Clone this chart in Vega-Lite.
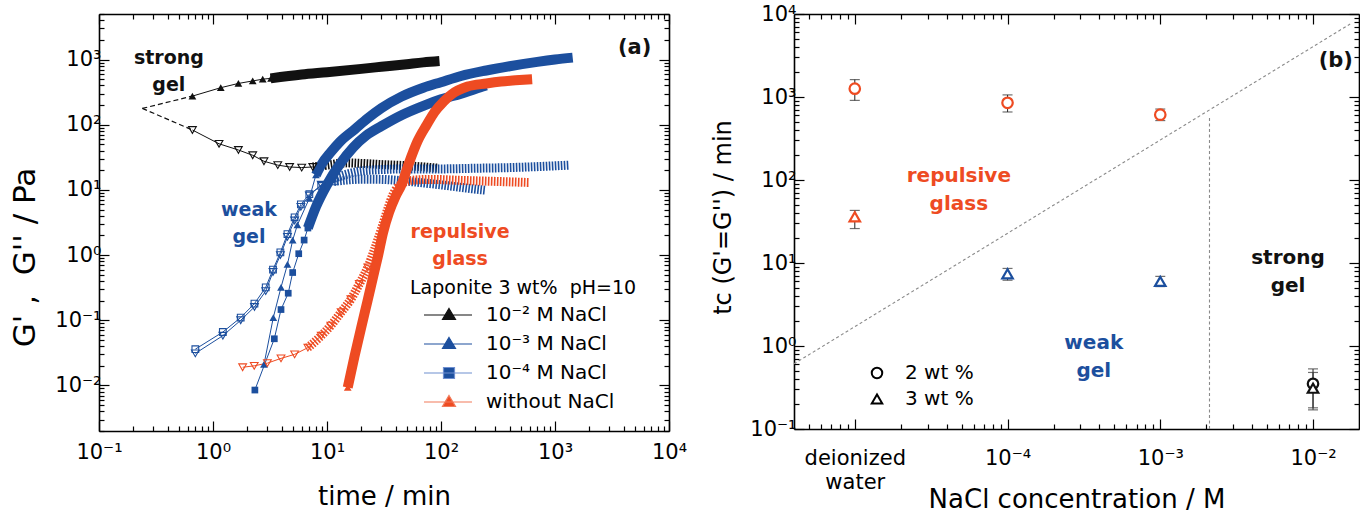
{
  "$schema": "https://vega.github.io/schema/vega-lite/v6.json",
  "padding": {"left": 9, "top": 3, "right": 0, "bottom": 0},
  "bounds": "flush",
  "spacing": 125,
  "resolve": {
    "scale": {"color": "independent", "shape": "independent", "fill": "independent", "stroke": "independent"},
    "legend": {"color": "independent", "shape": "independent", "fill": "independent", "stroke": "independent"}
  },
  "config": {
    "font": "DejaVu Sans",
    "view": {"stroke": null},
    "axis": {"grid": false, "domainColor": "black", "domainWidth": 1.6, "tickColor": "black", "tickWidth": 1.2, "labelColor": "black", "labelFont": "DejaVu Sans", "labelFontSize": 21, "titleColor": "black", "titleFont": "DejaVu Sans", "titleFontWeight": "normal", "labelOverlap": false, "labelFlush": false, "labelBound": false},
    "text": {"font": "DejaVu Sans"},
    "legend": {"labelFont": "DejaVu Sans", "titleFont": "DejaVu Sans"}
  },
  "datasets": {
    "aDash": [
      {"s": "10⁻² M NaCl", "m": "storage", "t": 0.24, "G": 178},
      {"s": "10⁻² M NaCl", "m": "storage", "t": 0.66, "G": 275},
      {"s": "10⁻² M NaCl", "m": "loss", "t": 0.24, "G": 178},
      {"s": "10⁻² M NaCl", "m": "loss", "t": 0.66, "G": 83}
    ],
    "aBand": [
      {"s": "10⁻² M NaCl", "m": "storage", "t": 3.2, "G": 515},
      {"s": "10⁻² M NaCl", "m": "storage", "t": 6, "G": 590},
      {"s": "10⁻² M NaCl", "m": "storage", "t": 10, "G": 640},
      {"s": "10⁻² M NaCl", "m": "storage", "t": 20, "G": 720},
      {"s": "10⁻² M NaCl", "m": "storage", "t": 30, "G": 775},
      {"s": "10⁻² M NaCl", "m": "storage", "t": 50, "G": 850},
      {"s": "10⁻² M NaCl", "m": "storage", "t": 70, "G": 905},
      {"s": "10⁻² M NaCl", "m": "storage", "t": 97, "G": 950},
      {"s": "10⁻² M NaCl", "m": "loss", "t": 7.5, "G": 22.5},
      {"s": "10⁻² M NaCl", "m": "loss", "t": 10, "G": 24},
      {"s": "10⁻² M NaCl", "m": "loss", "t": 15, "G": 26},
      {"s": "10⁻² M NaCl", "m": "loss", "t": 20, "G": 25.5},
      {"s": "10⁻² M NaCl", "m": "loss", "t": 30, "G": 24.5},
      {"s": "10⁻² M NaCl", "m": "loss", "t": 50, "G": 23.5},
      {"s": "10⁻² M NaCl", "m": "loss", "t": 70, "G": 22.5},
      {"s": "10⁻² M NaCl", "m": "loss", "t": 95, "G": 21.5},
      {"s": "10⁻³ M NaCl", "m": "storage", "t": 8, "G": 17},
      {"s": "10⁻³ M NaCl", "m": "storage", "t": 9, "G": 25},
      {"s": "10⁻³ M NaCl", "m": "storage", "t": 10.8, "G": 38},
      {"s": "10⁻³ M NaCl", "m": "storage", "t": 13, "G": 55},
      {"s": "10⁻³ M NaCl", "m": "storage", "t": 17.5, "G": 85},
      {"s": "10⁻³ M NaCl", "m": "storage", "t": 22.7, "G": 125},
      {"s": "10⁻³ M NaCl", "m": "storage", "t": 30, "G": 180},
      {"s": "10⁻³ M NaCl", "m": "storage", "t": 45, "G": 270},
      {"s": "10⁻³ M NaCl", "m": "storage", "t": 70, "G": 370},
      {"s": "10⁻³ M NaCl", "m": "storage", "t": 100, "G": 450},
      {"s": "10⁻³ M NaCl", "m": "storage", "t": 150, "G": 560},
      {"s": "10⁻³ M NaCl", "m": "storage", "t": 250, "G": 680},
      {"s": "10⁻³ M NaCl", "m": "storage", "t": 400, "G": 790},
      {"s": "10⁻³ M NaCl", "m": "storage", "t": 700, "G": 920},
      {"s": "10⁻³ M NaCl", "m": "storage", "t": 1000, "G": 1000},
      {"s": "10⁻³ M NaCl", "m": "storage", "t": 1430, "G": 1070},
      {"s": "10⁻³ M NaCl", "m": "loss", "t": 11.5, "G": 15},
      {"s": "10⁻³ M NaCl", "m": "loss", "t": 15, "G": 17.5},
      {"s": "10⁻³ M NaCl", "m": "loss", "t": 20, "G": 19.5},
      {"s": "10⁻³ M NaCl", "m": "loss", "t": 30, "G": 20.5},
      {"s": "10⁻³ M NaCl", "m": "loss", "t": 50, "G": 21},
      {"s": "10⁻³ M NaCl", "m": "loss", "t": 100, "G": 21},
      {"s": "10⁻³ M NaCl", "m": "loss", "t": 200, "G": 21.5},
      {"s": "10⁻³ M NaCl", "m": "loss", "t": 400, "G": 22},
      {"s": "10⁻³ M NaCl", "m": "loss", "t": 800, "G": 23},
      {"s": "10⁻³ M NaCl", "m": "loss", "t": 1330, "G": 24},
      {"s": "10⁻⁴ M NaCl", "m": "storage", "t": 6.8, "G": 2.6},
      {"s": "10⁻⁴ M NaCl", "m": "storage", "t": 8, "G": 5.5},
      {"s": "10⁻⁴ M NaCl", "m": "storage", "t": 10, "G": 12},
      {"s": "10⁻⁴ M NaCl", "m": "storage", "t": 13, "G": 25},
      {"s": "10⁻⁴ M NaCl", "m": "storage", "t": 17, "G": 45},
      {"s": "10⁻⁴ M NaCl", "m": "storage", "t": 22, "G": 68},
      {"s": "10⁻⁴ M NaCl", "m": "storage", "t": 30, "G": 95},
      {"s": "10⁻⁴ M NaCl", "m": "storage", "t": 45, "G": 140},
      {"s": "10⁻⁴ M NaCl", "m": "storage", "t": 70, "G": 195},
      {"s": "10⁻⁴ M NaCl", "m": "storage", "t": 100, "G": 245},
      {"s": "10⁻⁴ M NaCl", "m": "storage", "t": 150, "G": 300},
      {"s": "10⁻⁴ M NaCl", "m": "storage", "t": 200, "G": 355},
      {"s": "10⁻⁴ M NaCl", "m": "storage", "t": 250, "G": 400},
      {"s": "10⁻⁴ M NaCl", "m": "loss", "t": 11.5, "G": 13.5},
      {"s": "10⁻⁴ M NaCl", "m": "loss", "t": 15, "G": 14.2},
      {"s": "10⁻⁴ M NaCl", "m": "loss", "t": 20, "G": 14.6},
      {"s": "10⁻⁴ M NaCl", "m": "loss", "t": 30, "G": 14.5},
      {"s": "10⁻⁴ M NaCl", "m": "loss", "t": 50, "G": 13.6},
      {"s": "10⁻⁴ M NaCl", "m": "loss", "t": 80, "G": 12.5},
      {"s": "10⁻⁴ M NaCl", "m": "loss", "t": 120, "G": 11.5},
      {"s": "10⁻⁴ M NaCl", "m": "loss", "t": 180, "G": 10.5},
      {"s": "10⁻⁴ M NaCl", "m": "loss", "t": 245, "G": 9.9},
      {"s": "without NaCl", "m": "storage", "t": 15.2, "G": 0.0093},
      {"s": "without NaCl", "m": "storage", "t": 17.4, "G": 0.0275},
      {"s": "without NaCl", "m": "storage", "t": 19.9, "G": 0.076},
      {"s": "without NaCl", "m": "storage", "t": 22.7, "G": 0.2},
      {"s": "without NaCl", "m": "storage", "t": 26, "G": 0.56},
      {"s": "without NaCl", "m": "storage", "t": 27.9, "G": 0.94},
      {"s": "without NaCl", "m": "storage", "t": 31, "G": 2.2},
      {"s": "without NaCl", "m": "storage", "t": 35, "G": 4.5},
      {"s": "without NaCl", "m": "storage", "t": 40, "G": 8},
      {"s": "without NaCl", "m": "storage", "t": 45, "G": 12},
      {"s": "without NaCl", "m": "storage", "t": 52, "G": 25},
      {"s": "without NaCl", "m": "storage", "t": 62, "G": 55},
      {"s": "without NaCl", "m": "storage", "t": 75, "G": 100},
      {"s": "without NaCl", "m": "storage", "t": 88, "G": 158},
      {"s": "without NaCl", "m": "storage", "t": 105, "G": 225},
      {"s": "without NaCl", "m": "storage", "t": 123, "G": 290},
      {"s": "without NaCl", "m": "storage", "t": 171, "G": 385},
      {"s": "without NaCl", "m": "storage", "t": 250, "G": 430},
      {"s": "without NaCl", "m": "storage", "t": 336, "G": 460},
      {"s": "without NaCl", "m": "storage", "t": 450, "G": 480},
      {"s": "without NaCl", "m": "storage", "t": 630, "G": 500},
      {"s": "without NaCl", "m": "loss", "t": 6.8, "G": 0.038},
      {"s": "without NaCl", "m": "loss", "t": 8.9, "G": 0.058},
      {"s": "without NaCl", "m": "loss", "t": 10.8, "G": 0.083},
      {"s": "without NaCl", "m": "loss", "t": 13.3, "G": 0.133},
      {"s": "without NaCl", "m": "loss", "t": 16.2, "G": 0.21},
      {"s": "without NaCl", "m": "loss", "t": 19.2, "G": 0.36},
      {"s": "without NaCl", "m": "loss", "t": 22.8, "G": 0.65},
      {"s": "without NaCl", "m": "loss", "t": 26, "G": 1.2},
      {"s": "without NaCl", "m": "loss", "t": 30, "G": 2.5},
      {"s": "without NaCl", "m": "loss", "t": 34, "G": 5},
      {"s": "without NaCl", "m": "loss", "t": 38, "G": 8.5},
      {"s": "without NaCl", "m": "loss", "t": 44, "G": 12},
      {"s": "without NaCl", "m": "loss", "t": 55, "G": 14},
      {"s": "without NaCl", "m": "loss", "t": 80, "G": 14.5},
      {"s": "without NaCl", "m": "loss", "t": 150, "G": 14},
      {"s": "without NaCl", "m": "loss", "t": 300, "G": 13.5},
      {"s": "without NaCl", "m": "loss", "t": 590, "G": 13}
    ],
    "aPts": [
      {"s": "10⁻² M NaCl", "m": "storage", "t": 0.66, "G": 275},
      {"s": "10⁻² M NaCl", "m": "storage", "t": 1.17, "G": 370},
      {"s": "10⁻² M NaCl", "m": "storage", "t": 1.67, "G": 430},
      {"s": "10⁻² M NaCl", "m": "storage", "t": 2.23, "G": 470},
      {"s": "10⁻² M NaCl", "m": "storage", "t": 2.73, "G": 500},
      {"s": "10⁻² M NaCl", "m": "storage", "t": 3.23, "G": 515},
      {"s": "10⁻² M NaCl", "m": "loss", "t": 0.66, "G": 83},
      {"s": "10⁻² M NaCl", "m": "loss", "t": 1.13, "G": 51},
      {"s": "10⁻² M NaCl", "m": "loss", "t": 1.67, "G": 41},
      {"s": "10⁻² M NaCl", "m": "loss", "t": 2.23, "G": 34},
      {"s": "10⁻² M NaCl", "m": "loss", "t": 2.8, "G": 27.5},
      {"s": "10⁻² M NaCl", "m": "loss", "t": 3.7, "G": 24},
      {"s": "10⁻² M NaCl", "m": "loss", "t": 4.7, "G": 22.5},
      {"s": "10⁻² M NaCl", "m": "loss", "t": 6, "G": 22},
      {"s": "10⁻² M NaCl", "m": "loss", "t": 7.5, "G": 22.5},
      {"s": "10⁻³ M NaCl", "m": "storage", "t": 2.8, "G": 0.021},
      {"s": "10⁻³ M NaCl", "m": "storage", "t": 3.38, "G": 0.11},
      {"s": "10⁻³ M NaCl", "m": "storage", "t": 3.95, "G": 0.32},
      {"s": "10⁻³ M NaCl", "m": "storage", "t": 4.5, "G": 0.72},
      {"s": "10⁻³ M NaCl", "m": "storage", "t": 5.0, "G": 1.7},
      {"s": "10⁻³ M NaCl", "m": "storage", "t": 5.5, "G": 2.9},
      {"s": "10⁻³ M NaCl", "m": "storage", "t": 7.0, "G": 7.4},
      {"s": "10⁻³ M NaCl", "m": "storage", "t": 8.0, "G": 17},
      {"s": "10⁻³ M NaCl", "m": "loss", "t": 0.7, "G": 0.031},
      {"s": "10⁻³ M NaCl", "m": "loss", "t": 1.22, "G": 0.058},
      {"s": "10⁻³ M NaCl", "m": "loss", "t": 1.75, "G": 0.1},
      {"s": "10⁻³ M NaCl", "m": "loss", "t": 2.31, "G": 0.16},
      {"s": "10⁻³ M NaCl", "m": "loss", "t": 2.9, "G": 0.28},
      {"s": "10⁻³ M NaCl", "m": "loss", "t": 3.36, "G": 0.55},
      {"s": "10⁻³ M NaCl", "m": "loss", "t": 3.9, "G": 1.0},
      {"s": "10⁻³ M NaCl", "m": "loss", "t": 4.5, "G": 1.9},
      {"s": "10⁻³ M NaCl", "m": "loss", "t": 5.2, "G": 3.4},
      {"s": "10⁻³ M NaCl", "m": "loss", "t": 5.9, "G": 5.5},
      {"s": "10⁻³ M NaCl", "m": "loss", "t": 7.0, "G": 8.2},
      {"s": "10⁻³ M NaCl", "m": "loss", "t": 8.9, "G": 12},
      {"s": "10⁻³ M NaCl", "m": "loss", "t": 11.5, "G": 15},
      {"s": "10⁻⁴ M NaCl", "m": "storage", "t": 2.33, "G": 0.0085},
      {"s": "10⁻⁴ M NaCl", "m": "storage", "t": 3.45, "G": 0.052},
      {"s": "10⁻⁴ M NaCl", "m": "storage", "t": 3.95, "G": 0.146},
      {"s": "10⁻⁴ M NaCl", "m": "storage", "t": 4.57, "G": 0.26},
      {"s": "10⁻⁴ M NaCl", "m": "storage", "t": 5.0, "G": 0.54},
      {"s": "10⁻⁴ M NaCl", "m": "storage", "t": 5.65, "G": 1.05},
      {"s": "10⁻⁴ M NaCl", "m": "storage", "t": 6.3, "G": 1.7},
      {"s": "10⁻⁴ M NaCl", "m": "storage", "t": 6.8, "G": 2.6},
      {"s": "10⁻⁴ M NaCl", "m": "loss", "t": 0.7, "G": 0.036},
      {"s": "10⁻⁴ M NaCl", "m": "loss", "t": 1.22, "G": 0.066},
      {"s": "10⁻⁴ M NaCl", "m": "loss", "t": 1.75, "G": 0.11},
      {"s": "10⁻⁴ M NaCl", "m": "loss", "t": 2.31, "G": 0.18},
      {"s": "10⁻⁴ M NaCl", "m": "loss", "t": 2.9, "G": 0.32},
      {"s": "10⁻⁴ M NaCl", "m": "loss", "t": 3.36, "G": 0.6},
      {"s": "10⁻⁴ M NaCl", "m": "loss", "t": 3.9, "G": 1.1},
      {"s": "10⁻⁴ M NaCl", "m": "loss", "t": 4.5, "G": 2.1},
      {"s": "10⁻⁴ M NaCl", "m": "loss", "t": 5.2, "G": 3.8},
      {"s": "10⁻⁴ M NaCl", "m": "loss", "t": 5.9, "G": 6},
      {"s": "10⁻⁴ M NaCl", "m": "loss", "t": 7.0, "G": 8.6},
      {"s": "10⁻⁴ M NaCl", "m": "loss", "t": 8.9, "G": 11.5},
      {"s": "10⁻⁴ M NaCl", "m": "loss", "t": 11.5, "G": 13.5},
      {"s": "without NaCl", "m": "storage", "t": 15.2, "G": 0.0093},
      {"s": "without NaCl", "m": "storage", "t": 16.3, "G": 0.0163},
      {"s": "without NaCl", "m": "storage", "t": 17.4, "G": 0.0275},
      {"s": "without NaCl", "m": "storage", "t": 18.6, "G": 0.0455},
      {"s": "without NaCl", "m": "storage", "t": 19.9, "G": 0.0757},
      {"s": "without NaCl", "m": "storage", "t": 21.2, "G": 0.124},
      {"s": "without NaCl", "m": "storage", "t": 22.7, "G": 0.203},
      {"s": "without NaCl", "m": "storage", "t": 24.3, "G": 0.337},
      {"s": "without NaCl", "m": "storage", "t": 26, "G": 0.558},
      {"s": "without NaCl", "m": "storage", "t": 27.9, "G": 0.94},
      {"s": "without NaCl", "m": "loss", "t": 1.82, "G": 0.019},
      {"s": "without NaCl", "m": "loss", "t": 2.3, "G": 0.02},
      {"s": "without NaCl", "m": "loss", "t": 3.0, "G": 0.022},
      {"s": "without NaCl", "m": "loss", "t": 3.95, "G": 0.026},
      {"s": "without NaCl", "m": "loss", "t": 5.2, "G": 0.03},
      {"s": "without NaCl", "m": "loss", "t": 6.8, "G": 0.038},
      {"s": "without NaCl", "m": "loss", "t": 8.9, "G": 0.058},
      {"s": "without NaCl", "m": "loss", "t": 10.8, "G": 0.083},
      {"s": "without NaCl", "m": "loss", "t": 13.3, "G": 0.133},
      {"s": "without NaCl", "m": "loss", "t": 16.2, "G": 0.21},
      {"s": "without NaCl", "m": "loss", "t": 19.2, "G": 0.36},
      {"s": "without NaCl", "m": "loss", "t": 22.8, "G": 0.65}
    ],
    "aText": [
      {"txt": "strong\ngel", "t": 0.41, "G": 1075, "grp": "strong gel"},
      {"txt": "weak\ngel", "t": 2.07, "G": 5.0, "grp": "weak gel"},
      {"txt": "repulsive\nglass", "t": 147, "G": 2.27, "grp": "repulsive glass"}
    ],
    "bPts": [
      {"c": 0.00001, "wt": "2 wt %", "tc": 1260, "lo": 910, "hi": 1620, "regime": "repulsive glass"},
      {"c": 0.00001, "wt": "3 wt %", "tc": 36, "lo": 26, "hi": 43, "regime": "repulsive glass"},
      {"c": 0.0001, "wt": "2 wt %", "tc": 850, "lo": 660, "hi": 1060, "regime": "repulsive glass"},
      {"c": 0.001, "wt": "2 wt %", "tc": 612, "lo": 520, "hi": 716, "regime": "repulsive glass"},
      {"c": 0.0001, "wt": "3 wt %", "tc": 7.4, "lo": 6.2, "hi": 8.6, "regime": "weak gel"},
      {"c": 0.001, "wt": "3 wt %", "tc": 6.0, "lo": 5.2, "hi": 6.9, "regime": "weak gel"},
      {"c": 0.01, "wt": "2 wt %", "tc": 0.35, "lo": 0.18, "hi": 0.53, "regime": "strong gel"},
      {"c": 0.01, "wt": "3 wt %", "tc": 0.31, "lo": 0.17, "hi": 0.48, "regime": "strong gel"}
    ],
    "bLines": [
      {"id": "glass-gel boundary", "c": 0.000004, "tc": 0.61},
      {"id": "glass-gel boundary", "c": 0.0175, "tc": 7580},
      {"id": "weak-strong boundary", "c": 0.0021, "tc": 0.1},
      {"id": "weak-strong boundary", "c": 0.0021, "tc": 575}
    ],
    "bText": [
      {"txt": "repulsive\nglass", "c": 0.000048, "tc": 112, "regime": "repulsive glass"},
      {"txt": "weak\ngel", "c": 0.000367, "tc": 1.09, "regime": "weak gel"},
      {"txt": "strong\ngel", "c": 0.00686, "tc": 11.5, "regime": "strong gel"}
    ]
  },
  "hconcat": [
    {
      "width": 570,
      "height": 417,
      "resolve": {"axis": {"x": "independent", "y": "independent"}},
      "layer": [
        {
          "data": {"name": "aDash"},
          "mark": {"type": "line", "strokeDash": [5, 3], "strokeWidth": 1.2, "color": "#111111"},
          "encoding": {
            "x": {"field": "t", "type": "quantitative", "scale": {"type": "log", "domain": [0.1, 10000], "nice": false},
              "axis": {"orient": "top", "labels": false, "title": null, "values": [0.1,0.2,0.3,0.4,0.5,0.6,0.7,0.8,0.9,1,2,3,4,5,6,7,8,9,10,20,30,40,50,60,70,80,90,100,200,300,400,500,600,700,800,900,1000,2000,3000,4000,5000,6000,7000,8000,9000,10000],
                "tickSize": {"condition": {"test": "abs(log(datum.value)/LN10 - round(log(datum.value)/LN10)) < 0.001", "value": -10}, "value": -5}}},
            "y": {"field": "G", "type": "quantitative", "scale": {"type": "log", "domain": [0.002, 5000], "nice": false},
              "axis": {"orient": "right", "labels": false, "title": null, "values": [0.002,0.003,0.004,0.005,0.006,0.007,0.008,0.009,0.01,0.02,0.03,0.04,0.05,0.06,0.07,0.08,0.09,0.1,0.2,0.3,0.4,0.5,0.6,0.7,0.8,0.9,1,2,3,4,5,6,7,8,9,10,20,30,40,50,60,70,80,90,100,200,300,400,500,600,700,800,900,1000,2000,3000,4000,5000],
                "tickSize": {"condition": {"test": "abs(log(datum.value)/LN10 - round(log(datum.value)/LN10)) < 0.001", "value": -10}, "value": -5}}},
            "detail": {"field": "m"}
          }
        },
        {
          "data": {"name": "aBand"},
          "transform": [{"filter": {"field": "m", "equal": "loss"}}],
          "mark": {"type": "line", "strokeWidth": 9, "strokeDash": [1.6, 1.4], "strokeCap": "butt", "interpolate": "monotone"},
          "encoding": {
            "x": {"field": "t", "type": "quantitative", "scale": {"type": "log", "domain": [0.1, 10000], "nice": false}, "axis": null},
            "y": {"field": "G", "type": "quantitative", "scale": {"type": "log", "domain": [0.002, 5000], "nice": false}, "axis": null},
            "color": {"field": "s", "type": "nominal", "legend": null, "scale": {"domain": ["10⁻² M NaCl", "10⁻³ M NaCl", "10⁻⁴ M NaCl", "without NaCl", "strong gel", "weak gel", "repulsive glass"], "range": ["#111111", "#1c4f9e", "#1c4f9e", "#ee4b22", "#111111", "#1c4f9e", "#ee4b22"]}}
          }
        },
        {
          "data": {"name": "aBand"},
          "transform": [{"filter": {"field": "m", "equal": "storage"}}],
          "mark": {"type": "line", "strokeWidth": 10, "strokeCap": "butt", "interpolate": "monotone"},
          "encoding": {
            "x": {"field": "t", "type": "quantitative", "scale": {"type": "log", "domain": [0.1, 10000], "nice": false}, "axis": null},
            "y": {"field": "G", "type": "quantitative", "scale": {"type": "log", "domain": [0.002, 5000], "nice": false}, "axis": null},
            "color": {"field": "s", "type": "nominal", "legend": null, "scale": {"domain": ["10⁻² M NaCl", "10⁻³ M NaCl", "10⁻⁴ M NaCl", "without NaCl", "strong gel", "weak gel", "repulsive glass"], "range": ["#111111", "#1c4f9e", "#1c4f9e", "#ee4b22", "#111111", "#1c4f9e", "#ee4b22"]}}
          }
        },
        {
          "data": {"name": "aPts"},
          "mark": {"type": "line", "strokeWidth": 1},
          "encoding": {
            "x": {"field": "t", "type": "quantitative", "scale": {"type": "log", "domain": [0.1, 10000], "nice": false},
              "axis": {"orient": "bottom", "title": "time / min", "titleFontSize": 26, "titleY": 65, "titleBaseline": "middle", "labelPadding": 20,
                "values": [0.1,0.2,0.3,0.4,0.5,0.6,0.7,0.8,0.9,1,2,3,4,5,6,7,8,9,10,20,30,40,50,60,70,80,90,100,200,300,400,500,600,700,800,900,1000,2000,3000,4000,5000,6000,7000,8000,9000,10000],
                "labelExpr": "datum.value===0.1?'10⁻¹':datum.value===1?'10⁰':datum.value===10?'10¹':datum.value===100?'10²':datum.value===1000?'10³':datum.value===10000?'10⁴':''",
                "tickSize": {"condition": {"test": "abs(log(datum.value)/LN10 - round(log(datum.value)/LN10)) < 0.001", "value": -10}, "value": -5}}},
            "y": {"field": "G", "type": "quantitative", "scale": {"type": "log", "domain": [0.002, 5000], "nice": false},
              "axis": {"orient": "left", "title": "G'\u00a0,\u00a0\u00a0G''\u00a0/\u00a0Pa", "titleFontSize": 31, "titleX": -74, "titleY": 243, "titleBaseline": "middle", "titleAlign": "center", "labelPadding": 8,
                "values": [0.002,0.003,0.004,0.005,0.006,0.007,0.008,0.009,0.01,0.02,0.03,0.04,0.05,0.06,0.07,0.08,0.09,0.1,0.2,0.3,0.4,0.5,0.6,0.7,0.8,0.9,1,2,3,4,5,6,7,8,9,10,20,30,40,50,60,70,80,90,100,200,300,400,500,600,700,800,900,1000,2000,3000,4000,5000],
                "labelExpr": "datum.value===0.01?'10⁻²':datum.value===0.1?'10⁻¹':datum.value===1?'10⁰':datum.value===10?'10¹':datum.value===100?'10²':datum.value===1000?'10³':''",
                "tickSize": {"condition": {"test": "abs(log(datum.value)/LN10 - round(log(datum.value)/LN10)) < 0.001", "value": -10}, "value": -5}}},
            "color": {"field": "s", "type": "nominal", "legend": null, "scale": {"domain": ["10⁻² M NaCl", "10⁻³ M NaCl", "10⁻⁴ M NaCl", "without NaCl", "strong gel", "weak gel", "repulsive glass"], "range": ["#111111", "#1c4f9e", "#1c4f9e", "#ee4b22", "#111111", "#1c4f9e", "#ee4b22"]}},
            "detail": {"field": "m"}
          }
        },
        {
          "data": {"name": "aPts"},
          "transform": [{"filter": {"and": [{"field": "m", "equal": "storage"}, {"not": {"field": "s", "equal": "10⁻⁴ M NaCl"}}]}}],
          "mark": {"type": "point", "shape": "triangle-up", "filled": true, "size": 60, "opacity": 1},
          "encoding": {
            "x": {"field": "t", "type": "quantitative", "scale": {"type": "log", "domain": [0.1, 10000], "nice": false}, "axis": null},
            "y": {"field": "G", "type": "quantitative", "scale": {"type": "log", "domain": [0.002, 5000], "nice": false}, "axis": null},
            "color": {"field": "s", "type": "nominal", "legend": null, "scale": {"domain": ["10⁻² M NaCl", "10⁻³ M NaCl", "10⁻⁴ M NaCl", "without NaCl", "strong gel", "weak gel", "repulsive glass"], "range": ["#111111", "#1c4f9e", "#1c4f9e", "#ee4b22", "#111111", "#1c4f9e", "#ee4b22"]}}
          }
        },
        {
          "data": {"name": "aPts"},
          "transform": [{"filter": {"and": [{"field": "m", "equal": "storage"}, {"field": "s", "equal": "10⁻⁴ M NaCl"}]}}],
          "mark": {"type": "point", "shape": "square", "filled": true, "size": 45, "opacity": 1},
          "encoding": {
            "x": {"field": "t", "type": "quantitative", "scale": {"type": "log", "domain": [0.1, 10000], "nice": false}, "axis": null},
            "y": {"field": "G", "type": "quantitative", "scale": {"type": "log", "domain": [0.002, 5000], "nice": false}, "axis": null},
            "color": {"field": "s", "type": "nominal", "legend": null, "scale": {"domain": ["10⁻² M NaCl", "10⁻³ M NaCl", "10⁻⁴ M NaCl", "without NaCl", "strong gel", "weak gel", "repulsive glass"], "range": ["#111111", "#1c4f9e", "#1c4f9e", "#ee4b22", "#111111", "#1c4f9e", "#ee4b22"]}}
          }
        },
        {
          "data": {"name": "aPts"},
          "transform": [{"filter": {"and": [{"field": "m", "equal": "loss"}, {"not": {"field": "s", "equal": "10⁻⁴ M NaCl"}}]}}],
          "mark": {"type": "point", "shape": "triangle-down", "filled": false, "size": 60, "strokeWidth": 1.1, "opacity": 1},
          "encoding": {
            "x": {"field": "t", "type": "quantitative", "scale": {"type": "log", "domain": [0.1, 10000], "nice": false}, "axis": null},
            "y": {"field": "G", "type": "quantitative", "scale": {"type": "log", "domain": [0.002, 5000], "nice": false}, "axis": null},
            "color": {"field": "s", "type": "nominal", "legend": null, "scale": {"domain": ["10⁻² M NaCl", "10⁻³ M NaCl", "10⁻⁴ M NaCl", "without NaCl", "strong gel", "weak gel", "repulsive glass"], "range": ["#111111", "#1c4f9e", "#1c4f9e", "#ee4b22", "#111111", "#1c4f9e", "#ee4b22"]}}
          }
        },
        {
          "data": {"name": "aPts"},
          "transform": [{"filter": {"and": [{"field": "m", "equal": "loss"}, {"field": "s", "equal": "10⁻⁴ M NaCl"}]}}],
          "mark": {"type": "point", "shape": "square", "filled": false, "size": 45, "strokeWidth": 1.1, "opacity": 1},
          "encoding": {
            "x": {"field": "t", "type": "quantitative", "scale": {"type": "log", "domain": [0.1, 10000], "nice": false}, "axis": null},
            "y": {"field": "G", "type": "quantitative", "scale": {"type": "log", "domain": [0.002, 5000], "nice": false}, "axis": null},
            "color": {"field": "s", "type": "nominal", "legend": null, "scale": {"domain": ["10⁻² M NaCl", "10⁻³ M NaCl", "10⁻⁴ M NaCl", "without NaCl", "strong gel", "weak gel", "repulsive glass"], "range": ["#111111", "#1c4f9e", "#1c4f9e", "#ee4b22", "#111111", "#1c4f9e", "#ee4b22"]}}
          }
        },
        {
          "data": {"name": "aText"},
          "mark": {"type": "text", "fontWeight": "bold", "fontSize": 19, "lineBreak": "\n", "lineHeight": 27, "align": "center", "baseline": "middle"},
          "encoding": {
            "x": {"field": "t", "type": "quantitative", "scale": {"type": "log", "domain": [0.1, 10000], "nice": false}, "axis": null},
            "y": {"field": "G", "type": "quantitative", "scale": {"type": "log", "domain": [0.002, 5000], "nice": false}, "axis": null},
            "text": {"field": "txt"},
            "color": {"field": "grp", "type": "nominal", "legend": null, "scale": {"domain": ["10⁻² M NaCl", "10⁻³ M NaCl", "10⁻⁴ M NaCl", "without NaCl", "strong gel", "weak gel", "repulsive glass"], "range": ["#111111", "#1c4f9e", "#1c4f9e", "#ee4b22", "#111111", "#1c4f9e", "#ee4b22"]}}
          }
        },
        {
          "data": {"values": [{"txt": "(a)", "t": 5000, "G": 1510}]},
          "mark": {"type": "text", "fontWeight": "bold", "fontSize": 21, "align": "center", "baseline": "middle", "color": "#111111"},
          "encoding": {
            "x": {"field": "t", "type": "quantitative", "scale": {"type": "log", "domain": [0.1, 10000], "nice": false}, "axis": null},
            "y": {"field": "G", "type": "quantitative", "scale": {"type": "log", "domain": [0.002, 5000], "nice": false}, "axis": null},
            "text": {"field": "txt"}
          }
        },
        {
          "data": {"name": "aPts"},
          "transform": [{"filter": "datum.t < 0"}],
          "mark": {"type": "point", "filled": true, "strokeWidth": 1.2, "opacity": 1},
          "encoding": {
            "fill": {"field": "s", "type": "nominal",
              "scale": {"domain": ["10⁻² M NaCl", "10⁻³ M NaCl", "10⁻⁴ M NaCl", "without NaCl"], "range": ["#111111", "#1c4f9e", "#1c4f9e", "#ee4b22"]},
              "legend": {"orient": "none", "legendX": 311, "legendY": 265, "title": "Laponite 3 wt%\u00a0 pH=10", "titleLimit": 400, "titleFontSize": 19, "titleFontWeight": "normal", "titleColor": "black", "titlePadding": 6, "labelFontSize": 20, "labelColor": "black", "labelLimit": 300, "symbolSize": 400, "symbolOpacity": 1, "labelOffset": 54, "rowPadding": 8, "symbolStrokeWidth": 1.2, "padding": 0}},
            "stroke": {"field": "s", "type": "nominal",
              "scale": {"domain": ["10⁻² M NaCl", "10⁻³ M NaCl", "10⁻⁴ M NaCl", "without NaCl"], "range": ["#111111", "#1c4f9e", "#6f8fd0", "#f27a5a"]},
              "legend": {"orient": "none", "legendX": 311, "legendY": 265, "title": "Laponite 3 wt%\u00a0 pH=10", "titleLimit": 400, "titleFontSize": 19, "titleFontWeight": "normal", "titleColor": "black", "titlePadding": 6, "labelFontSize": 20, "labelColor": "black", "labelLimit": 300, "symbolSize": 400, "symbolOpacity": 1, "labelOffset": 54, "rowPadding": 8, "symbolStrokeWidth": 1.2, "padding": 0}},
            "shape": {"field": "s", "type": "nominal",
              "scale": {"domain": ["10⁻² M NaCl", "10⁻³ M NaCl", "10⁻⁴ M NaCl", "without NaCl"], "range": ["M0.3,0H5.1M2.8,-0.65L3.45,0.45L2.15,0.45Z", "M0.3,0H5.1M2.8,-0.65L3.45,0.45L2.15,0.45Z", "M0.3,0H5.1M2.25,-0.55H3.35V0.55H2.25Z", "M0.3,0H5.1M2.8,-0.65L3.45,0.45L2.15,0.45Z"]},
              "legend": {"orient": "none", "legendX": 311, "legendY": 265, "title": "Laponite 3 wt%\u00a0 pH=10", "titleLimit": 400, "titleFontSize": 19, "titleFontWeight": "normal", "titleColor": "black", "titlePadding": 6, "labelFontSize": 20, "labelColor": "black", "labelLimit": 300, "symbolSize": 400, "symbolOpacity": 1, "labelOffset": 54, "rowPadding": 8, "symbolStrokeWidth": 1.2, "padding": 0}}
          }
        }
      ]
    },
    {
      "width": 565,
      "height": 415,
      "resolve": {"axis": {"x": "independent", "y": "independent"}},
      "layer": [
        {
          "data": {"name": "bLines"},
          "mark": {"type": "line", "strokeDash": [3, 2.5], "strokeWidth": 1.1, "color": "#8a8a8a"},
          "encoding": {
            "x": {"field": "c", "type": "quantitative", "scale": {"type": "log", "domain": [0.000004, 0.02], "nice": false},
              "axis": {"orient": "top", "labels": false, "title": null, "values": [0.000005,0.000006,0.000007,0.000008,0.000009,0.00001,0.00002,0.00003,0.00004,0.00005,0.00006,0.00007,0.00008,0.00009,0.0001,0.0002,0.0003,0.0004,0.0005,0.0006,0.0007,0.0008,0.0009,0.001,0.002,0.003,0.004,0.005,0.006,0.007,0.008,0.009,0.01],
                "tickSize": {"condition": {"test": "abs(log(datum.value)/LN10 - round(log(datum.value)/LN10)) < 0.001", "value": -10}, "value": -5}}},
            "y": {"field": "tc", "type": "quantitative", "scale": {"type": "log", "domain": [0.1, 10000], "nice": false},
              "axis": {"orient": "right", "labels": false, "title": null, "values": [0.1,0.2,0.3,0.4,0.5,0.6,0.7,0.8,0.9,1,2,3,4,5,6,7,8,9,10,20,30,40,50,60,70,80,90,100,200,300,400,500,600,700,800,900,1000,2000,3000,4000,5000,6000,7000,8000,9000,10000],
                "tickSize": {"condition": {"test": "abs(log(datum.value)/LN10 - round(log(datum.value)/LN10)) < 0.001", "value": -10}, "value": -5}}},
            "detail": {"field": "id"},
            "order": {"field": "tc"}
          }
        },
        {
          "data": {"name": "bPts"},
          "mark": {"type": "rule", "color": "#333333", "strokeWidth": 1.1},
          "encoding": {
            "x": {"field": "c", "type": "quantitative", "scale": {"type": "log", "domain": [0.000004, 0.02], "nice": false}, "axis": null},
            "y": {"field": "lo", "type": "quantitative", "scale": {"type": "log", "domain": [0.1, 10000], "nice": false}, "axis": null},
            "y2": {"field": "hi"}
          }
        },
        {
          "data": {"name": "bPts"},
          "mark": {"type": "tick", "orient": "horizontal", "color": "#333333", "size": 10, "thickness": 1.2},
          "encoding": {
            "x": {"field": "c", "type": "quantitative", "scale": {"type": "log", "domain": [0.000004, 0.02], "nice": false}, "axis": null},
            "y": {"field": "lo", "type": "quantitative", "scale": {"type": "log", "domain": [0.1, 10000], "nice": false}, "axis": null}
          }
        },
        {
          "data": {"name": "bPts"},
          "mark": {"type": "tick", "orient": "horizontal", "color": "#333333", "size": 10, "thickness": 1.2},
          "encoding": {
            "x": {"field": "c", "type": "quantitative", "scale": {"type": "log", "domain": [0.000004, 0.02], "nice": false}, "axis": null},
            "y": {"field": "hi", "type": "quantitative", "scale": {"type": "log", "domain": [0.1, 10000], "nice": false}, "axis": null}
          }
        },
        {
          "data": {"name": "bPts"},
          "transform": [{"filter": {"field": "wt", "equal": "2 wt %"}}],
          "mark": {"type": "point", "shape": "circle", "filled": false, "fill": "white", "fillOpacity": 1, "size": 110, "strokeWidth": 2.2, "opacity": 1},
          "encoding": {
            "x": {"field": "c", "type": "quantitative", "scale": {"type": "log", "domain": [0.000004, 0.02], "nice": false},
              "axis": {"orient": "bottom", "title": "NaCl concentration / M", "titleFontSize": 26, "titleY": 70, "titleBaseline": "middle", "labelPadding": 28, "labelLineHeight": 24, "labelBaseline": "top",
                "values": [0.000005,0.000006,0.000007,0.000008,0.000009,0.00001,0.00002,0.00003,0.00004,0.00005,0.00006,0.00007,0.00008,0.00009,0.0001,0.0002,0.0003,0.0004,0.0005,0.0006,0.0007,0.0008,0.0009,0.001,0.002,0.003,0.004,0.005,0.006,0.007,0.008,0.009,0.01],
                "labelExpr": "datum.value===0.00001?['deionized','water']:datum.value===0.0001?'10⁻⁴':datum.value===0.001?'10⁻³':datum.value===0.01?'10⁻²':''",
                "tickSize": {"condition": {"test": "abs(log(datum.value)/LN10 - round(log(datum.value)/LN10)) < 0.001", "value": -10}, "value": -5}}},
            "y": {"field": "tc", "type": "quantitative", "scale": {"type": "log", "domain": [0.1, 10000], "nice": false},
              "axis": {"orient": "left", "title": "tc (G'=G'') / min", "titleFontSize": 24, "titleX": -71, "titleY": 203, "titleBaseline": "middle", "titleAlign": "center", "labelPadding": 8,
                "values": [0.1,0.2,0.3,0.4,0.5,0.6,0.7,0.8,0.9,1,2,3,4,5,6,7,8,9,10,20,30,40,50,60,70,80,90,100,200,300,400,500,600,700,800,900,1000,2000,3000,4000,5000,6000,7000,8000,9000,10000],
                "labelExpr": "datum.value===0.1?'10⁻¹':datum.value===1?'10⁰':datum.value===10?'10¹':datum.value===100?'10²':datum.value===1000?'10³':datum.value===10000?'10⁴':''",
                "tickSize": {"condition": {"test": "abs(log(datum.value)/LN10 - round(log(datum.value)/LN10)) < 0.001", "value": -10}, "value": -5}}},
            "color": {"field": "regime", "type": "nominal", "legend": null, "scale": {"domain": ["repulsive glass", "weak gel", "strong gel"], "range": ["#ee4b22", "#1c4f9e", "#111111"]}}
          }
        },
        {
          "data": {"name": "bPts"},
          "transform": [{"filter": {"field": "wt", "equal": "3 wt %"}}],
          "mark": {"type": "point", "shape": "triangle-up", "filled": false, "fill": "white", "fillOpacity": 1, "size": 110, "strokeWidth": 2.2, "opacity": 1},
          "encoding": {
            "x": {"field": "c", "type": "quantitative", "scale": {"type": "log", "domain": [0.000004, 0.02], "nice": false}, "axis": null},
            "y": {"field": "tc", "type": "quantitative", "scale": {"type": "log", "domain": [0.1, 10000], "nice": false}, "axis": null},
            "color": {"field": "regime", "type": "nominal", "legend": null, "scale": {"domain": ["repulsive glass", "weak gel", "strong gel"], "range": ["#ee4b22", "#1c4f9e", "#111111"]}}
          }
        },
        {
          "data": {"name": "bText"},
          "mark": {"type": "text", "fontWeight": "bold", "fontSize": 20, "lineBreak": "\n", "lineHeight": 28, "align": "center", "baseline": "middle"},
          "encoding": {
            "x": {"field": "c", "type": "quantitative", "scale": {"type": "log", "domain": [0.000004, 0.02], "nice": false}, "axis": null},
            "y": {"field": "tc", "type": "quantitative", "scale": {"type": "log", "domain": [0.1, 10000], "nice": false}, "axis": null},
            "text": {"field": "txt"},
            "color": {"field": "regime", "type": "nominal", "legend": null, "scale": {"domain": ["repulsive glass", "weak gel", "strong gel"], "range": ["#ee4b22", "#1c4f9e", "#111111"]}}
          }
        },
        {
          "data": {"values": [{"txt": "(b)", "c": 0.0141, "tc": 2740}]},
          "mark": {"type": "text", "fontWeight": "bold", "fontSize": 21, "align": "center", "baseline": "middle", "color": "#111111"},
          "encoding": {
            "x": {"field": "c", "type": "quantitative", "scale": {"type": "log", "domain": [0.000004, 0.02], "nice": false}, "axis": null},
            "y": {"field": "tc", "type": "quantitative", "scale": {"type": "log", "domain": [0.1, 10000], "nice": false}, "axis": null},
            "text": {"field": "txt"}
          }
        },
        {
          "data": {"name": "bPts"},
          "transform": [{"filter": "datum.c < 0"}],
          "mark": {"type": "point", "filled": false, "color": "black", "strokeWidth": 2, "opacity": 1},
          "encoding": {
            "shape": {"field": "wt", "type": "nominal",
              "scale": {"domain": ["2 wt %", "3 wt %"], "range": ["circle", "triangle-up"]},
              "legend": {"orient": "none", "legendX": 73, "legendY": 349, "title": null, "labelFontSize": 20, "labelColor": "black", "symbolSize": 110, "symbolOpacity": 1, "symbolStrokeWidth": 2, "symbolStrokeColor": "black", "symbolFillColor": "transparent", "rowPadding": 6, "labelOffset": 18, "padding": 0}}
          }
        }
      ]
    }
  ]
}
